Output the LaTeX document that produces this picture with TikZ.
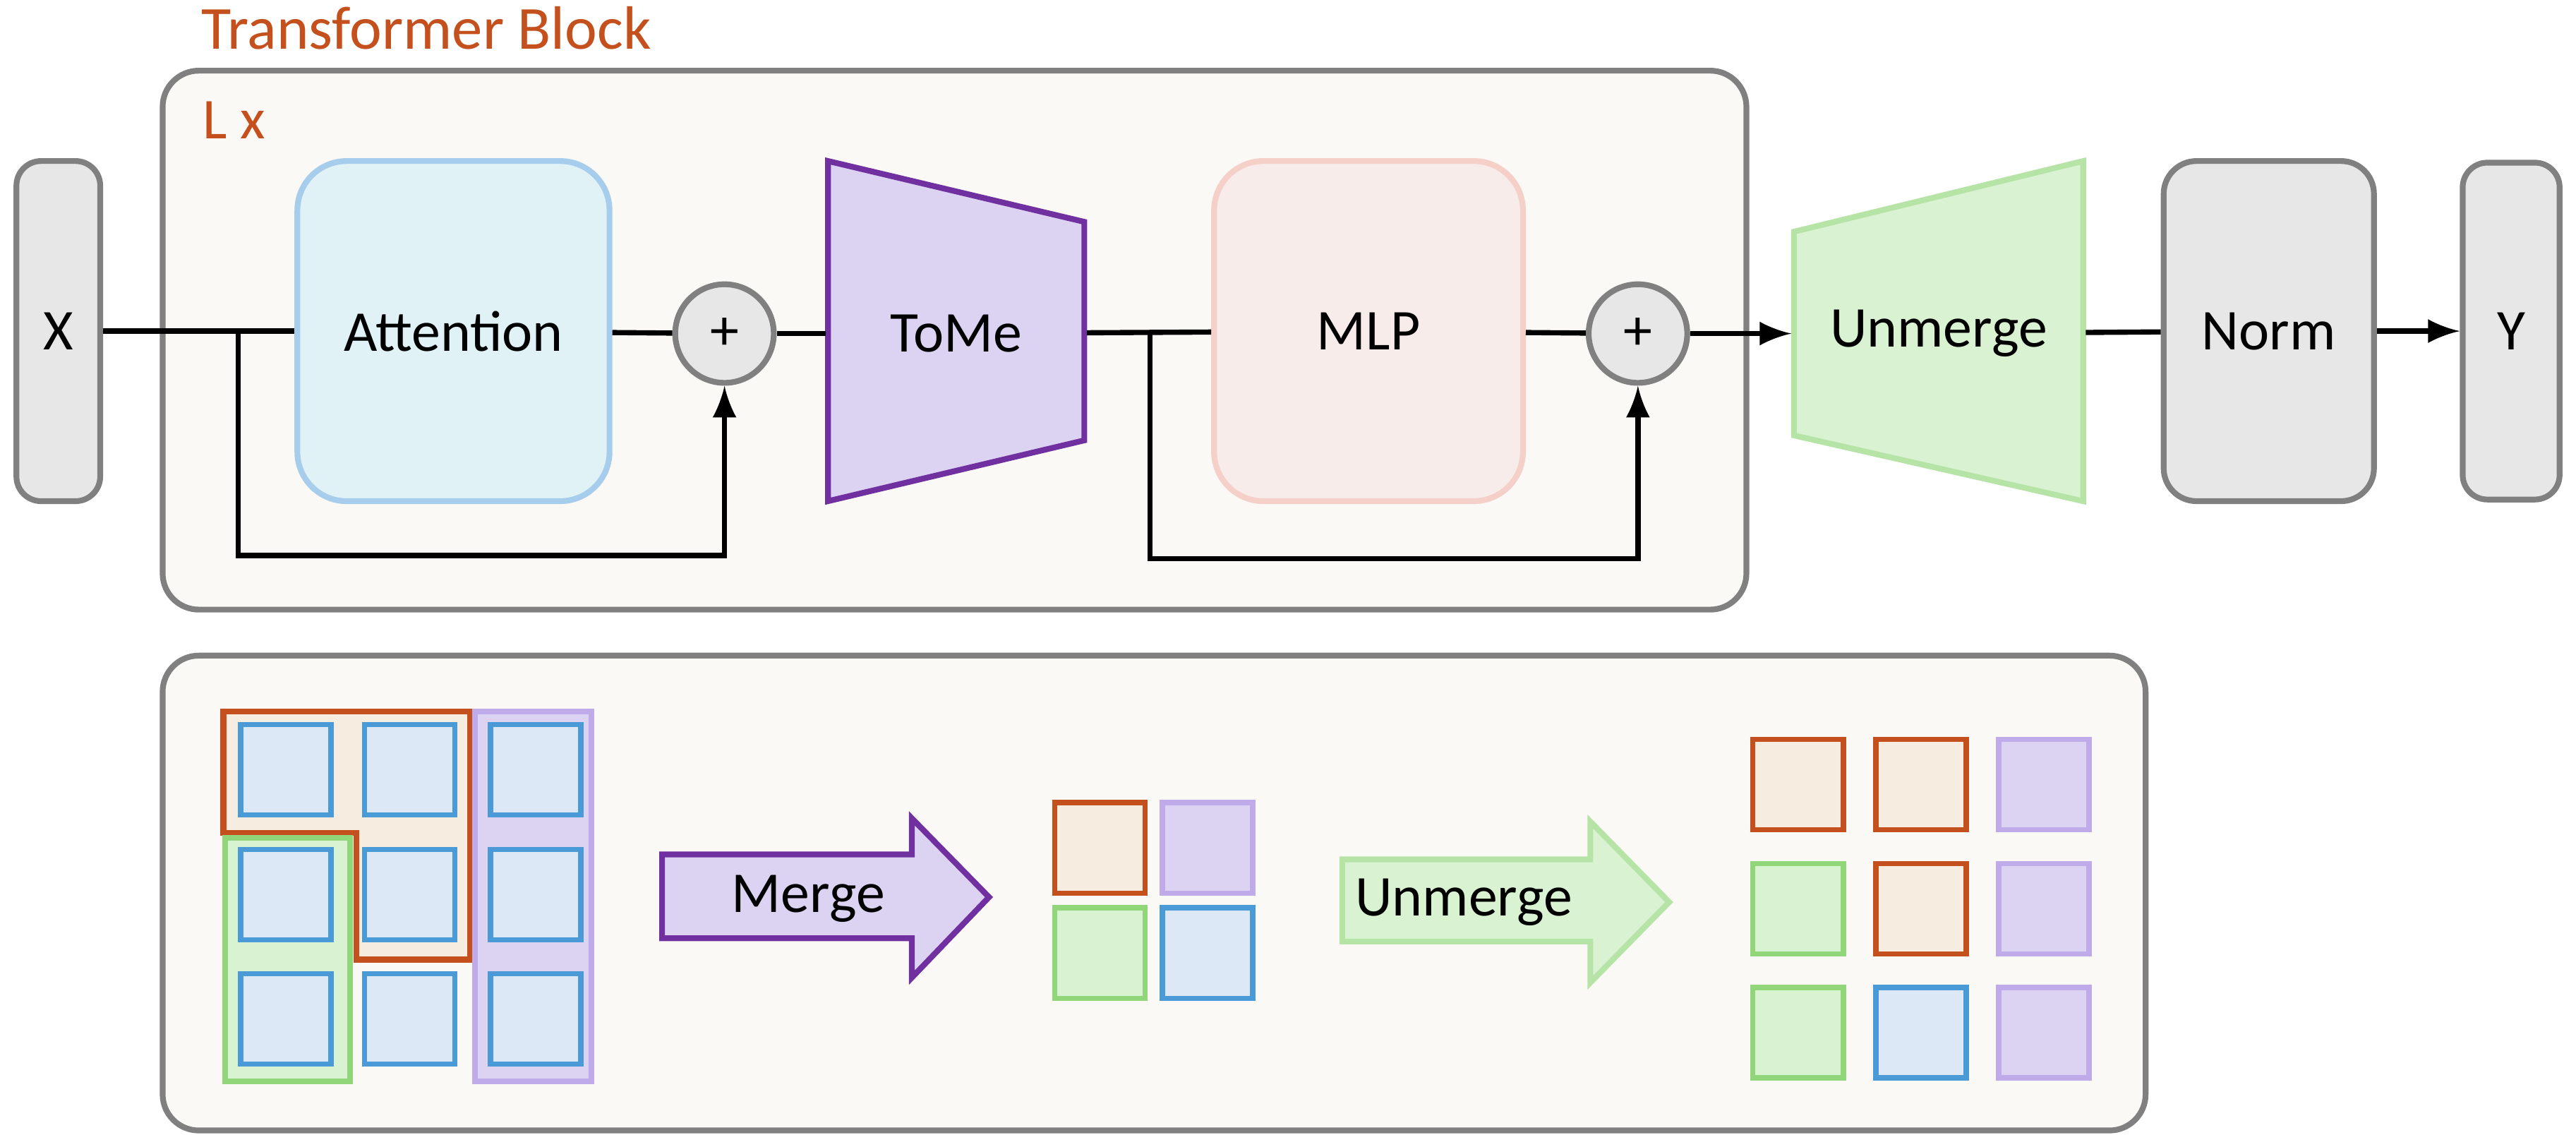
\documentclass[tikz,border=0pt]{standalone}
\usepackage{fontspec}
\setmainfont{Carlito}
\usepackage{tikz}
\usetikzlibrary{calc}
\usetikzlibrary{positioning}
\usetikzlibrary{arrows.meta}
\tikzset{>=latex}

\definecolor{rust}{RGB}{196,80,30}
\definecolor{lgray}{RGB}{128,128,128}
\definecolor{boxgray}{RGB}{231,231,231}
\definecolor{panelbg}{RGB}{250,249,246}
\definecolor{attfill}{RGB}{225,242,247}
\definecolor{attline}{RGB}{166,205,235}
\definecolor{mlpfill}{RGB}{247,236,234}
\definecolor{mlpline}{RGB}{244,208,200}
\definecolor{purpfill}{RGB}{220,210,242}
\definecolor{purpdark}{RGB}{112,48,160}
\definecolor{purpline}{RGB}{191,170,234}
\definecolor{grnfill}{RGB}{217,242,210}
\definecolor{grnline}{RGB}{146,214,122}
\definecolor{grnlight}{RGB}{181,228,166}
\definecolor{orgfill}{RGB}{246,237,224}
\definecolor{blufill}{RGB}{220,232,245}
\definecolor{bluline}{RGB}{74,154,216}

\tikzset{
    every node/.style={font=\fontsize{10}{12}\selectfont},
    panel/.style={draw=lgray, fill=panelbg, line width=1pt, rounded corners=0.22cm},
    graybox/.style={draw=lgray, fill=boxgray, line width=1pt, rounded corners=0.2cm, minimum height=2.07cm, inner sep=0pt},
    plus/.style={circle, draw=lgray, fill=boxgray, line width=1pt, minimum size=0.60cm, inner sep=0pt},
    tile/.style={minimum width=0.55cm, minimum height=0.55cm, inner sep=0pt, line width=0.9pt},
    torg/.style={tile, draw=rust, fill=orgfill},
    tpur/.style={tile, draw=purpline, fill=purpfill},
    tgrn/.style={tile, draw=grnline, fill=grnfill},
    tblu/.style={tile, draw=bluline, fill=blufill},
}

\begin{document}
\begin{tikzpicture}[line width=0.9pt]
        \useasboundingbox (0,0) rectangle (15.68,-6.98);

        % Transformer block
        \node[anchor=west, text=rust, inner sep=0pt, font=\fontsize{10.6}{12}\selectfont] (title) at (1.21,-0.17) {Transformer Block};
        \draw[panel] (0.99,-0.43) rectangle (10.63,-3.71);
        \node[anchor=west, text=rust, inner sep=0pt] (lx) at (1.22,-0.73) {L x};

        % X
        \node[graybox, minimum width=0.51cm, rounded corners=0.15cm] (x) at (0.355,-2.015) {X};

        % Attention
        \node[draw=attline, fill=attfill, line width=1pt, rounded corners=0.3cm, minimum width=1.90cm, minimum height=2.07cm] (att) at (2.76,-2.015) {Attention};
        \node[plus] (p1) at (4.41,-2.03) {+};

        % ToMe
        \draw[draw=purpdark, fill=purpfill, line width=1pt] (5.04,-0.98) -- (6.60,-1.35) -- (6.60,-2.68) -- (5.04,-3.05) -- cycle;
        \node[minimum width=1.56cm, minimum height=2.07cm, inner sep=0pt] (tome) at (5.82,-2.03) {ToMe};

        % MLP
        \node[draw=mlpline, fill=mlpfill, line width=1pt, rounded corners=0.3cm, minimum width=1.88cm, minimum height=2.07cm] (mlp) at (8.33,-2.015) {MLP};
        \node[plus] (p2) at (9.97,-2.03) {+};

        % Unmerge
        \draw[draw=grnlight, fill=grnfill, line width=1pt] (10.92,-1.41) -- (12.68,-0.98) -- (12.68,-3.05) -- (10.92,-2.65) -- cycle;
        \node[minimum width=1.76cm, minimum height=2.07cm, inner sep=0pt] (unm) at (11.80,-2.03) {Unmerge};

        % Norm, Y
        \node[graybox, minimum width=1.28cm] (norm) at (13.81,-2.015) {Norm};
        \node[graybox, minimum width=0.59cm, minimum height=2.05cm, rounded corners=0.15cm] (y) at (15.285,-2.015) {Y};

        % main line
        \draw (x) -- (att);
        \draw (att) -- (p1);
        \draw (p1) -- (tome);
        \draw (tome) -- (mlp);
        \draw (mlp) -- (p2);
        \draw[->] (p2) -- (unm);
        \draw (unm) -- (norm);
        \draw[->] (norm) -- (y);

        % skips
        \coordinate (s1) at (1.45,-2.03);
        \draw[->] (s1) -- ++(0,-1.35) -| (p1);
        \coordinate (s2) at (7.00,-2.03);
        \draw[->] (s2) -- ++(0,-1.37) -| (p2);

        % Merge / unmerge panel
        \draw[panel] (0.99,-3.99) rectangle (13.06,-6.88);

        % groups
        \draw[draw=rust, fill=orgfill, line width=1pt] (1.36,-4.33) -- (2.86,-4.33) -- (2.86,-5.84) -- (2.17,-5.84) -- (2.17,-5.07) -- (1.36,-5.07) -- cycle;
        \draw[draw=grnline, fill=grnfill, line width=1pt] (1.37,-5.10) rectangle (2.13,-6.58);
        \draw[draw=purpline, fill=purpfill, line width=1pt] (2.89,-4.33) rectangle (3.60,-6.58);

        % tokens
        \foreach \c/\xx in {1/1.74, 2/2.495, 3/3.26}
            \foreach \r/\yy in {1/-4.685, 2/-5.445, 3/-6.20}
                \node[tblu] (a\r\c) at (\xx,\yy) {};

        % Merge
        \draw[draw=purpdark, fill=purpfill, line width=1pt] (4.03,-5.20) -- (5.55,-5.20) -- (5.55,-4.98) -- (6.02,-5.46) -- (5.55,-5.95) -- (5.55,-5.71) -- (4.03,-5.71) -- cycle;
        \node (merge) at (4.92,-5.47) {Merge};

        % merged tokens
        \node[torg] (b11) at (6.695,-5.16) {};
        \node[tpur] (b12) at (7.35,-5.16) {};
        \node[tgrn] (b21) at (6.695,-5.80) {};
        \node[tblu] (b22) at (7.35,-5.80) {};

        % Unmerge
        \draw[draw=grnlight, fill=grnfill, line width=1pt] (8.17,-5.23) -- (9.68,-5.23) -- (9.68,-5.00) -- (10.16,-5.49) -- (9.68,-5.98) -- (9.68,-5.73) -- (8.17,-5.73) -- cycle;
        \node (unmerge) at (8.91,-5.49) {Unmerge};

        % unmerged tokens
        \foreach \r/\yy/\lst in {1/-4.775/{torg,torg,tpur}, 2/-5.53/{tgrn,torg,tpur}, 3/-6.285/{tgrn,tblu,tpur}}
            \foreach \st [count=\c] in \lst
                \node[\st] (c\r\c) at ({10.945+0.7475*(\c-1)},\yy) {};
    \end{tikzpicture}
\end{document}
